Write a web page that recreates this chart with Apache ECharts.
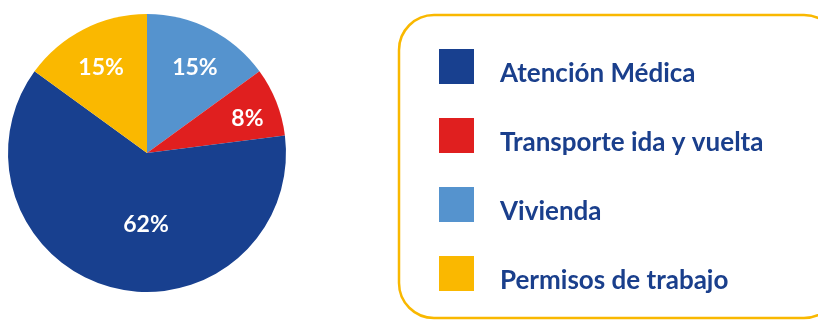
<!DOCTYPE html>
<html>
<head>
<meta charset="utf-8">
<script src="https://cdn.jsdelivr.net/npm/echarts@6/dist/echarts.min.js"></script>
<style>
html,body{margin:0;padding:0;background:#fff;}
#chart{width:818px;height:320px;}
</style>
</head>
<body>
<div id="chart"></div>
<script>
// Data (clockwise from top)
const categories = ['Vivienda', 'Transporte ida y vuelta', 'Atención Médica', 'Permisos de trabajo'];
const values = [15, 8, 62, 15];
const legendOrder = ['Atención Médica', 'Transporte ida y vuelta', 'Vivienda', 'Permisos de trabajo'];

// Styles
const colors = {
  'Vivienda': '#5593CE',
  'Transporte ida y vuelta': '#E01F1F',
  'Atención Médica': '#18408F',
  'Permisos de trabajo': '#FAB800'
};
const labelOffsets = {
  'Vivienda': [15, -21],
  'Transporte ida y vuelta': [33, -8],
  'Atención Médica': [17, 1],
  'Permisos de trabajo': [-13, -21]
};

const chart = echarts.init(document.getElementById('chart'), null, {renderer: 'canvas'});
const font = 'Lato, "Open Sans", sans-serif';

chart.setOption({
  animation: false,
  graphic: [{
    type: 'rect',
    shape: {x: 399, y: 15, width: 440, height: 303, r: 35},
    style: {fill: 'none', stroke: '#F9B800', lineWidth: 2.5},
    z: 0
  }],
  legend: {
    orient: 'vertical',
    left: 439,
    top: 49,
    padding: 0,
    itemWidth: 35,
    itemHeight: 35,
    itemGap: 31,
    icon: 'rect',
    data: legendOrder,
    selectedMode: false,
    formatter: '{t|{name}}',
    textStyle: {
      fontFamily: font,
      fontWeight: 'bold',
      fontSize: 26,
      color: '#1A3F8C',
      rich: {
        t: {
          fontFamily: font,
          fontWeight: 'bold',
          fontSize: 26,
          color: '#1A3F8C',
          padding: [15, 0, 0, 21]
        }
      }
    }
  },
  series: [{
    type: 'pie',
    center: [147, 153],
    radius: 139,
    startAngle: 90,
    clockwise: true,
    avoidLabelOverlap: false,
    label: {
      show: true,
      position: 'inside',
      formatter: '{c}%',
      color: '#fff',
      fontFamily: font,
      fontWeight: 'bold',
      fontSize: 23
    },
    labelLine: {show: false},
    emphasis: {disabled: true},
    data: categories.map((c, i) => ({
      name: c,
      value: values[i],
      itemStyle: {color: colors[c]},
      label: {offset: labelOffsets[c]}
    }))
  }]
});
</script>
</body>
</html>
